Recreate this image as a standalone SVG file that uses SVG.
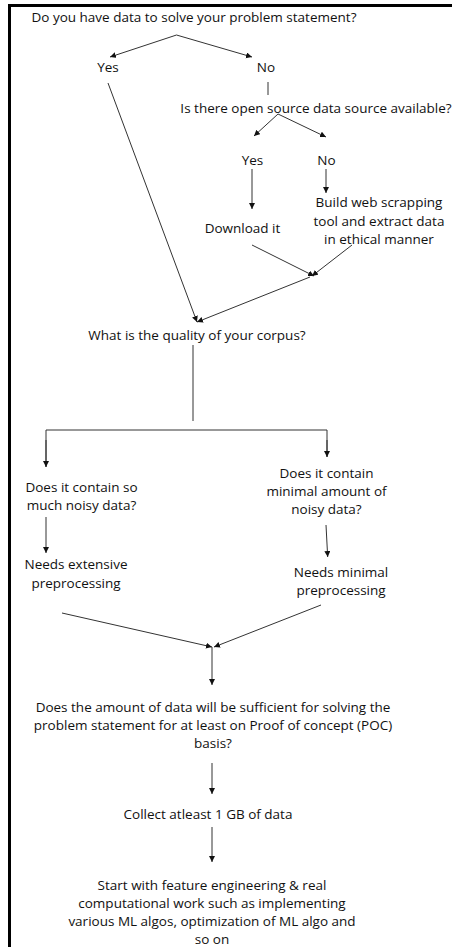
<svg xmlns="http://www.w3.org/2000/svg" width="452" height="947" viewBox="0 0 452 947">
  <defs>
    <marker id="arrow" markerUnits="userSpaceOnUse" markerWidth="8" markerHeight="8" refX="6" refY="3" orient="auto">
      <path d="M0,0 L6,3 L0,6 Z" fill="#111"/>
    </marker>
    <style>
      text { font-family: "Open Sans", "Noto Sans", "Liberation Sans", sans-serif; font-size: 13.5px; fill: #111; text-anchor: middle; }
      .c { stroke: #333; stroke-width: 1; fill: none; }
      .a { marker-end: url(#arrow); }
    </style>
  </defs>
  <rect width="452" height="947" fill="#fff"/>
  <!-- frame: top and left edges -->
  <g id="frame" stroke="#000" stroke-width="3" fill="none">
    <line x1="8" y1="5.5" x2="452" y2="5.5"/>
    <line x1="9.5" y1="4" x2="9.5" y2="947"/>
  </g>

  <g id="connectors">
    <line class="c a" x1="176.5" y1="35" x2="110" y2="57"/>
    <line class="c a" x1="176.5" y1="35" x2="252" y2="57"/>
    <line class="c" x1="268" y1="82" x2="268" y2="95"/>
    <line class="c a" x1="278" y1="114" x2="254" y2="136"/>
    <line class="c a" x1="278" y1="114" x2="326" y2="137"/>
    <line class="c a" x1="108" y1="83" x2="197" y2="322"/>
    <line class="c a" x1="252" y1="169" x2="252" y2="209"/>
    <line class="c a" x1="326" y1="169" x2="326" y2="193"/>
    <line class="c a" x1="252" y1="245" x2="314" y2="276"/>
    <line class="c a" x1="352" y1="245" x2="312" y2="276"/>
    <line class="c a" x1="310" y1="277" x2="197" y2="322"/>
    <line class="c" x1="193" y1="345" x2="193" y2="421"/>
    <polyline class="c" points="46,467 46,430 327,430 327,457"/>
    <line class="c a" x1="46" y1="440" x2="46" y2="467"/>
    <line class="c a" x1="327" y1="440" x2="327" y2="457"/>
    <line class="c a" x1="46" y1="517" x2="46" y2="553"/>
    <line class="c a" x1="326" y1="525" x2="327.7" y2="557"/>
    <line class="c a" x1="62" y1="613" x2="212" y2="647"/>
    <line class="c a" x1="321" y1="605" x2="214" y2="647"/>
    <line class="c a" x1="212" y1="647" x2="212" y2="685"/>
    <line class="c a" x1="212" y1="763" x2="212" y2="794"/>
    <line class="c a" x1="212" y1="827" x2="212" y2="862"/>
  </g>

  <g id="q-have-data"><text x="194" y="22">Do you have data to solve your problem statement?</text></g>
  <g id="yes-1"><text x="108" y="72">Yes</text></g>
  <g id="no-1"><text x="266" y="72">No</text></g>
  <g id="q-open-source"><text x="316" y="113">Is there open source data source available?</text></g>
  <g id="yes-2"><text x="252.5" y="165">Yes</text></g>
  <g id="no-2"><text x="326.5" y="165">No</text></g>
  <g id="build-scraper">
    <text x="379" y="207">Build web scrapping</text>
    <text x="379" y="225.5">tool and extract data</text>
    <text x="379" y="244">in ethical manner</text>
  </g>
  <g id="download"><text x="242.5" y="233">Download it</text></g>
  <g id="q-quality"><text x="197" y="340">What is the quality of your corpus?</text></g>
  <g id="q-much-noise">
    <text x="81.5" y="492">Does it contain so</text>
    <text x="81.5" y="510">much noisy data?</text>
  </g>
  <g id="q-minimal-noise">
    <text x="326.5" y="478">Does it contain</text>
    <text x="326.5" y="496">minimal amount of</text>
    <text x="326.5" y="514">noisy data?</text>
  </g>
  <g id="extensive-prep">
    <text x="76" y="569">Needs extensive</text>
    <text x="76" y="588">preprocessing</text>
  </g>
  <g id="minimal-prep">
    <text x="341" y="577">Needs minimal</text>
    <text x="341" y="595">preprocessing</text>
  </g>
  <g id="q-sufficient">
    <text x="213" y="712">Does the amount of data will be sufficient for solving the</text>
    <text x="213" y="730">problem statement for at least on Proof of concept (POC)</text>
    <text x="213" y="748">basis?</text>
  </g>
  <g id="collect"><text x="208" y="819">Collect atleast 1 GB of data</text></g>
  <g id="feature-eng">
    <text x="212" y="890">Start with feature engineering &amp; real</text>
    <text x="212" y="908">computational work such as implementing</text>
    <text x="212" y="926">various ML algos, optimization of ML algo and</text>
    <text x="212" y="944">so on</text>
  </g>
</svg>
